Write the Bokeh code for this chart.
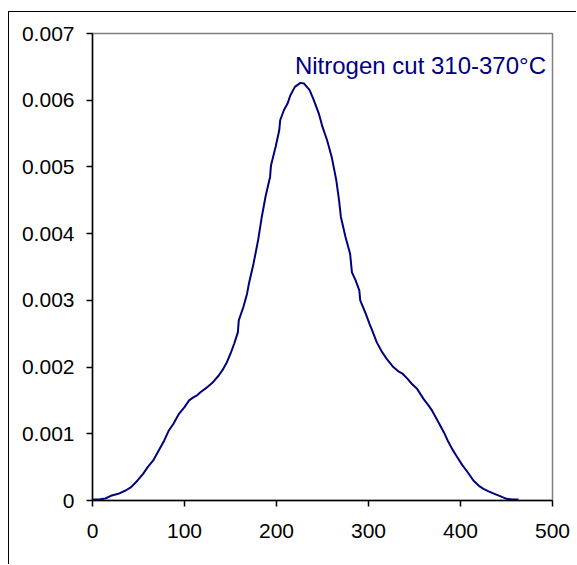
from bokeh.plotting import figure
from bokeh.models import FixedTicker, CustomJSTickFormatter, Label, Range1d
from bokeh.embed import file_html
from bokeh.resources import INLINE

# Distribution of the nitrogen cut 310-370 °C
x_vals = [0, 7, 14, 20, 28, 36, 42, 49, 55, 60, 66, 72, 78, 83, 88, 94, 100, 105,
          110, 114, 118, 123, 130, 137, 142, 146, 150, 154, 158, 159, 164, 168, 170,
          175, 180, 184, 188, 193, 194, 199, 203, 204, 208, 212, 215, 220, 226, 230,
          236, 240, 246, 250, 255, 260, 265, 268, 270, 275, 280, 282, 286, 290, 291,
          297, 301, 304, 309, 315, 320, 327, 333, 337, 342, 347, 353, 360, 365, 369,
          375, 382, 386, 391, 396, 402, 408, 414, 420, 425, 430, 435, 443, 450, 457, 463]
y_vals = [0.000015, 0.000015, 0.00003, 0.00007, 0.0001, 0.00015, 0.0002, 0.0003,
          0.0004, 0.0005, 0.0006, 0.00075, 0.0009, 0.00105, 0.00115, 0.0013, 0.0014,
          0.0015, 0.00155, 0.00158, 0.00163, 0.00168, 0.00176, 0.00187, 0.00197,
          0.00207, 0.0022, 0.00235, 0.00252, 0.0027, 0.0029, 0.0031, 0.00325, 0.00355,
          0.0039, 0.00425, 0.00455, 0.00485, 0.00502, 0.0053, 0.00555, 0.0057, 0.00585,
          0.00595, 0.00607, 0.0062, 0.00626, 0.00625, 0.00615, 0.00602, 0.0058, 0.0056,
          0.0054, 0.00515, 0.0048, 0.0045, 0.00425, 0.00395, 0.0037, 0.00342, 0.0033,
          0.00315, 0.003, 0.0028, 0.00265, 0.00255, 0.00237, 0.00222, 0.00212, 0.002,
          0.00193, 0.0019, 0.00183, 0.00175, 0.00167, 0.00152, 0.00143, 0.00135,
          0.0012, 0.00102, 0.0009, 0.00077, 0.00066, 0.00053, 0.00042, 0.0003, 0.00022,
          0.000175, 0.00014, 0.00011, 0.000065, 0.000025, 0.000015, 0.000015]

x_ticks = [0, 100, 200, 300, 400, 500]
y_ticks = [0, 0.001, 0.002, 0.003, 0.004, 0.005, 0.006, 0.007]
series_label = "Nitrogen cut 310-370°C"

FONT = "Liberation Sans"

p = figure(width=568, height=553, output_backend="svg", toolbar_location=None,
           x_range=Range1d(0, 500), y_range=Range1d(0, 0.007),
           min_border_left=83, min_border_top=21, min_border_right=25,
           min_border_bottom=65)
p.styles = {"border-left": "1px solid #000000", "border-top": "1px solid #000000",
            "margin-top": "11px", "margin-left": "8px"}

p.line(x_vals, y_vals, line_color="#000080", line_width=2)

p.xgrid.visible = False
p.ygrid.visible = False
p.outline_line_color = "#808080"
p.outline_line_width = 1.5

for ax in (p.xaxis[0], p.yaxis[0]):
    ax.axis_line_color = "#000000"
    ax.axis_line_width = 1.5
    ax.major_tick_line_color = "#000000"
    ax.major_tick_line_width = 1.5
    ax.major_tick_in = 0
    ax.major_tick_out = 6
    ax.minor_tick_line_color = None
    ax.major_label_text_font = FONT
    ax.major_label_text_font_size = "21px"
    ax.major_label_text_color = "#000000"

p.xaxis[0].ticker = FixedTicker(ticks=x_ticks)
p.yaxis[0].ticker = FixedTicker(ticks=y_ticks)
p.yaxis[0].formatter = CustomJSTickFormatter(code="return tick == 0 ? '0' : tick.toFixed(3);")
p.xaxis[0].major_label_standoff = 17
p.yaxis[0].major_label_standoff = 12

p.add_layout(Label(x=220.0, y=0.00652, text=series_label, text_font=FONT,
                   text_font_size="24px", text_color="#000080",
                   text_baseline="alphabetic"))

open("out.html", "w").write(file_html(p, INLINE))
